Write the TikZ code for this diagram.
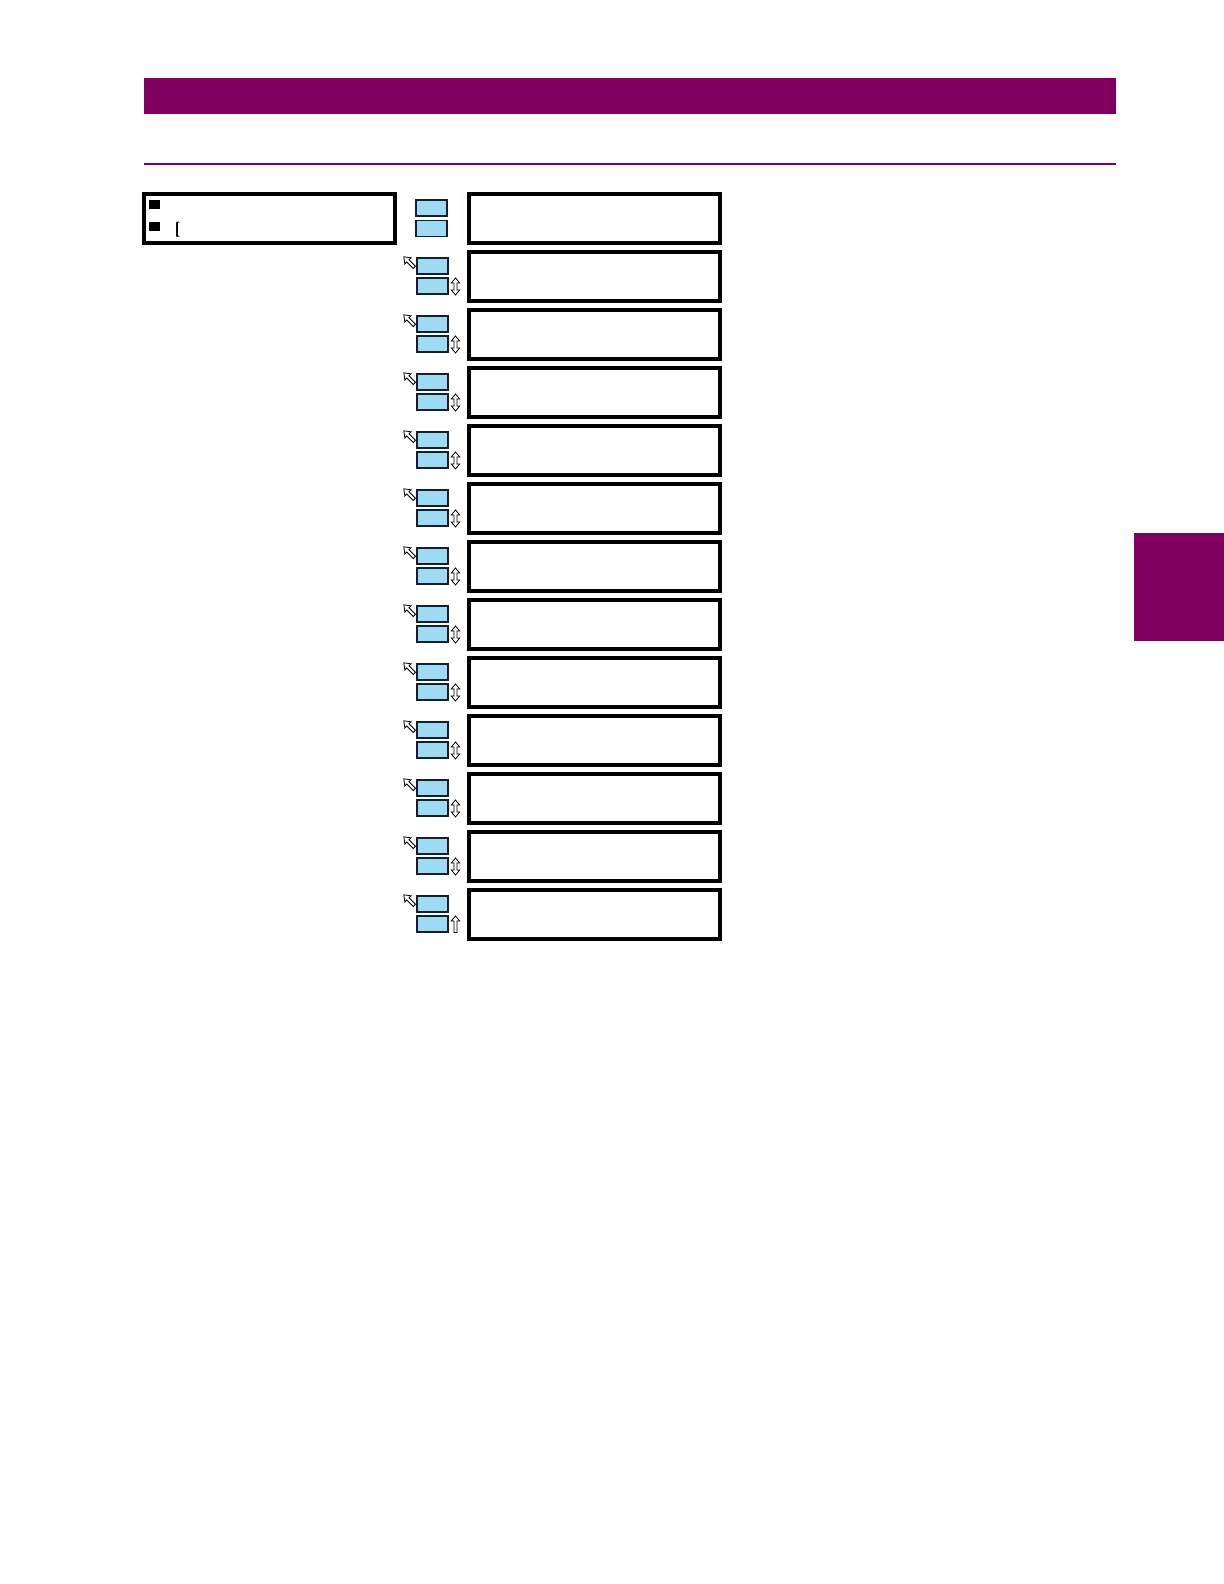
\documentclass[tikz,border=0pt]{standalone}
\usetikzlibrary{calc}
\definecolor{gepurple}{RGB}{128,0,98}
\definecolor{btnblue}{RGB}{157,219,245}
\definecolor{btnedge}{RGB}{20,30,45}
\begin{document}
\begin{tikzpicture}[x=0.5pt,y=-0.5pt,
  panel/.style={draw=black,line width=2pt,fill=white,rectangle,inner sep=0pt,
    minimum width=125.5pt,minimum height=24.5pt},
  btn/.style={draw=btnedge,line width=0.7pt,fill=btnblue,rectangle,inner sep=0pt,
    minimum width=15.5pt,minimum height=8pt},
  hollow/.style={draw=black,line width=0.4pt,fill=white,line join=miter}
]
\useasboundingbox (0,0) rectangle (1224,1584);
% header
\fill[gepurple] (144,78) rectangle (1116,114.5);
\fill[gepurple] (144,162.5) rectangle (1116,164.5);
\fill[gepurple] (1134,533) rectangle (1224,641);
% left menu box
\node[draw=black,line width=2pt,rectangle,inner sep=0pt,minimum width=125.5pt,minimum height=24.5pt] (menu) at (269.5,218.5) {};
\fill[black] (149,200) rectangle (160,209);
\fill[black] (149,222) rectangle (160,231);
\node[inner sep=0pt,font=\sffamily\bfseries\fontsize{7.5}{8}\selectfont] (brk) at (177.5,230) {[};
% rows
\foreach \i in {0,...,12}{
  \pgfmathsetmacro{\t}{192+58*\i}
  \node[panel] (p\i) at (594.5,\t+26.5) {};
}
% row 0 buttons
\node[btn] (a0) at (431.5,208) {};
\node[btn] (b0) at (431.5,228.5) {};
\foreach \i in {1,...,12}{
  \pgfmathsetmacro{\t}{192+58*\i}
  \node[btn] (a\i) at (432.5,\t+16) {};
  \node[btn] (b\i) at (432.5,\t+36) {};
  % north-west hollow arrow
  \begin{scope}[shift={(409.5,\t+12.5)},rotate=45,scale=1.15]
    \draw[hollow] (0,-7) -- (-3.8,-2) -- (-1.4,-2) -- (-1.4,6) -- (1.4,6) -- (1.4,-2) -- (3.8,-2) -- cycle;
  \end{scope}
}
% up-down hollow arrows
\foreach \i in {1,...,11}{
  \pgfmathsetmacro{\t}{192+58*\i}
  \begin{scope}[shift={(455.5,\t+36.5)}]
    \draw[hollow] (0,-8.5) -- (-4.2,-3.5) -- (-1.5,-3.5) -- (-1.5,3.5) -- (-4.2,3.5) -- (0,8.5) -- (4.2,3.5) -- (1.5,3.5) -- (1.5,-3.5) -- (4.2,-3.5) -- cycle;
  \end{scope}
}
% last row: up arrow only
\begin{scope}[shift={(455.5,192+58*12+36.5)}]
  \draw[hollow] (0,-8.5) -- (-4.2,-3.5) -- (-1.5,-3.5) -- (-1.5,8) -- (1.5,8) -- (1.5,-3.5) -- (4.2,-3.5) -- cycle;
\end{scope}
\end{tikzpicture}
\end{document}
